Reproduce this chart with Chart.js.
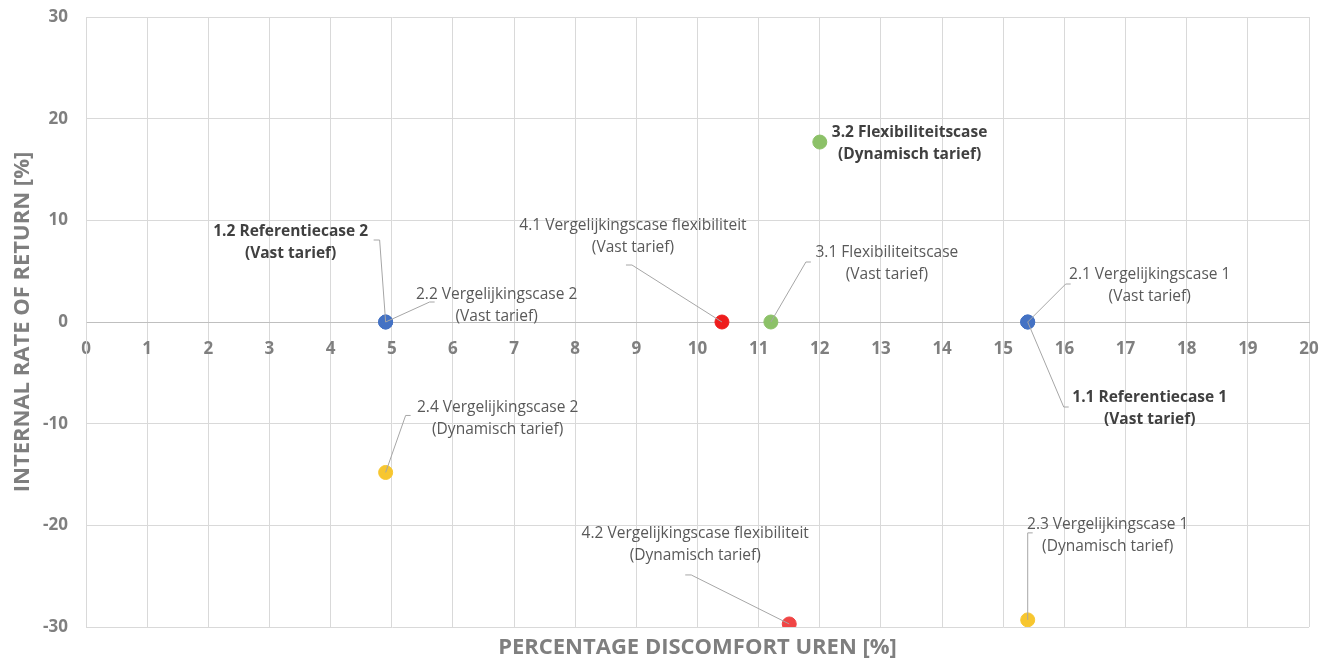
<!DOCTYPE html>
<html>
<head>
<meta charset="utf-8">
<script src="https://cdn.jsdelivr.net/npm/chart.js@4"></script>
<style>
  html, body { margin: 0; padding: 0; background: #fff; }
  #wrap { width: 1329px; height: 661px; position: relative; }
</style>
</head>
<body>
<div id="wrap"><canvas id="irr"></canvas></div>
<script>
// Cases: percentage discomfort-uren (x) tegen IRR (y)
var CASES = ['1.1 Referentiecase 1', '1.2 Referentiecase 2', '2.1 Vergelijkingscase 1', '2.2 Vergelijkingscase 2',
  '2.3 Vergelijkingscase 1', '2.4 Vergelijkingscase 2', '3.1 Flexibiliteitscase', '3.2 Flexibiliteitscase',
  '4.1 Vergelijkingscase flexibiliteit', '4.2 Vergelijkingscase flexibiliteit'];
var TARIEF = ['Vast tarief', 'Vast tarief', 'Vast tarief', 'Vast tarief', 'Dynamisch tarief', 'Dynamisch tarief',
  'Vast tarief', 'Dynamisch tarief', 'Vast tarief', 'Dynamisch tarief'];
var DISCOMFORT = [15.4, 4.9, 15.4, 4.9, 15.4, 4.9, 11.2, 12.0, 10.4, 11.5];
var IRR = [0, 0, 0, 0, -29.3, -14.8, 0, 17.7, 0, -29.7];
var X_TICKS = [0, 1, 2, 3, 4, 5, 6, 7, 8, 9, 10, 11, 12, 13, 14, 15, 16, 17, 18, 19, 20];
var Y_TICKS = [-30, -20, -10, 0, 10, 20, 30];

// opmaak per punt (kleur, vet label, label-offset in px t.o.v. punt, knik van de verbindingslijn)
var KLEUR = ['#4472c4', '#4472c4', '#4472c4', '#4472c4', '#f7c62f', '#f7c62f', '#8cc168', '#8cc168', '#ee1c1c', '#f04545'];
var VET = [true, true, false, false, false, false, false, true, false, false];
var LABEL = [ // d: midden van regel 1 t.o.v. punt; l: eindpunt verbindingslijn (null = geen lijn)
  { d: [122, 76], l: [36, 85] },
  { d: [-95, -90], l: [-6, -82] },
  { d: [122, -47], l: [38, -38] },
  { d: [111, -27], l: [44, -20] },
  { d: [80, -95], l: [0, -87] },
  { d: [112, -65], l: [20, -57] },
  { d: [116, -69], l: [35, -60] },
  { d: [84, -9], l: null },
  { d: [-89, -96], l: [-90, -57] },
  { d: [-94, -90], l: [-98, -49] }
];

var GRIJS = '#7f7f7f';
var FONT = '"Open Sans", sans-serif';

var punten = DISCOMFORT.map(function (x, i) { return { x: x, y: IRR[i] }; });

// labels met verbindingslijnen, zoals Excel-gegevenslabels
var caseLabels = {
  id: 'caseLabels',
  afterDatasetsDraw: function (chart) {
    var ctx = chart.ctx, sx = chart.scales.x, sy = chart.scales.y;
    ctx.save();
    DISCOMFORT.forEach(function (v, i) {
      var px = sx.getPixelForValue(v), py = sy.getPixelForValue(IRR[i]);
      var lab = LABEL[i];
      var tx = px + lab.d[0], ty = py + lab.d[1];
      if (lab.l) {
        var ex = px + lab.l[0], ey = py + lab.l[1];
        ctx.strokeStyle = '#a6a6a6'; ctx.lineWidth = 1;
        ctx.beginPath(); ctx.moveTo(px, py); ctx.lineTo(ex, ey);
        ctx.lineTo(ex + (lab.l[0] >= 0 ? 5 : -6), ey);
        ctx.stroke();
      }
      ctx.font = (VET[i] ? 'bold ' : '') + '15.5px ' + FONT;
      ctx.fillStyle = VET[i] ? '#404040' : '#595959';
      ctx.textAlign = 'center'; ctx.textBaseline = 'middle';
      if (i === 7) { // 3.2 links uitgelijnd naast het punt
        var w1 = ctx.measureText(CASES[i]).width;
        ctx.textAlign = 'left';
        ctx.fillText(CASES[i], px + 12, ty);
        ctx.textAlign = 'center';
        ctx.fillText('(' + TARIEF[i] + ')', px + 12 + w1 / 2, ty + 22);
      } else {
        ctx.fillText(CASES[i], tx, ty);
        ctx.fillText('(' + TARIEF[i] + ')', tx, ty + 22);
      }
    });
    // x-as titel onder het plotgebied
    var ca = chart.chartArea;
    ctx.font = 'bold 22px ' + FONT;
    ctx.fillStyle = GRIJS; ctx.textAlign = 'center'; ctx.textBaseline = 'middle';
    ctx.fillText('PERCENTAGE DISCOMFORT UREN [%]', (ca.left + ca.right) / 2, ca.bottom + 21);
    ctx.restore();
  }
};

new Chart(document.getElementById('irr').getContext('2d'), {
  type: 'scatter',
  data: {
    datasets: [
      { data: punten, pointBackgroundColor: KLEUR, pointBorderColor: KLEUR, pointRadius: 7, pointHoverRadius: 7 }
    ]
  },
  options: {
    responsive: true, maintainAspectRatio: false, animation: false,
    layout: { padding: { left: 10, right: 20, top: 17, bottom: 34 } },
    plugins: { legend: { display: false }, tooltip: { enabled: false } },
    scales: {
      x: {
        type: 'linear', position: { y: 0 }, min: 0, max: 20,
        afterBuildTicks: function (s) { s.ticks = X_TICKS.map(function (v) { return { value: v }; }); },
        afterFit: function (s) { s.paddingLeft = 0; s.paddingRight = 0; },
        grid: { color: '#d9d9d9', drawTicks: false },
        border: { color: '#bfbfbf' },
        ticks: { color: GRIJS, padding: 17, font: { family: FONT, size: 17, weight: 'bold' } }
      },
      y: {
        type: 'linear', min: -30, max: 30,
        afterBuildTicks: function (s) { s.ticks = Y_TICKS.map(function (v) { return { value: v }; }); },
        afterFit: function (s) { s.width = 76; s.paddingTop = 0; s.paddingBottom = 0; },
        grid: { color: '#d9d9d9', drawTicks: false },
        border: { color: '#d9d9d9' },
        ticks: { color: GRIJS, padding: 18, font: { family: FONT, size: 17, weight: 'bold' } },
        title: { display: true, text: 'INTERNAL RATE OF RETURN [%]', color: GRIJS, padding: 0,
          font: { family: FONT, size: 22, weight: 'bold' } }
      }
    }
  },
  plugins: [caseLabels]
});
</script>
</body>
</html>
